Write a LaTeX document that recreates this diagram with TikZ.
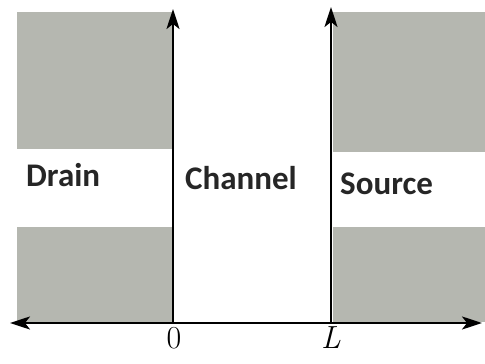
\documentclass[tikz,border=0pt]{standalone}
\usepackage{fontspec}
\setsansfont{Carlito}
\usetikzlibrary{arrows.meta}
\definecolor{regiongray}{RGB}{181,183,176}
\tikzset{
  region/.style={fill=regiongray, draw=none},
  band/.style={fill=white, draw=none},
  axis/.style={line width=2.2pt, -{Stealth[length=20pt,width=13pt,inset=5pt]}},
  lbl/.style={inner sep=0pt, anchor=base west, font=\sffamily\bfseries\fontsize{33}{38}\selectfont, text=black!85},
  tick/.style={inner sep=0pt, font=\fontsize{32}{36}\selectfont}
}
\begin{document}
\begin{tikzpicture}[x=1pt,y=1pt]
\useasboundingbox (0,0) rectangle (485,364);
% regions
\fill[region] (17,42) rectangle (172,352);
\fill[band] (17,137) rectangle (172,215);
\fill[region] (333,42) rectangle (485,352);
\fill[band] (333,137) rectangle (485,212);
% coordinates
\coordinate (O) at (173,41);
\coordinate (Lp) at (331,41);
\coordinate (Otop) at (173,355);
\coordinate (Ltop) at (331,357);
\coordinate (Xleft) at (10,41);
\coordinate (Xright) at (482,41);
% axes
\draw[axis] (O) -- (Xleft);
\draw[axis] (O) -- (Xright);
\draw[axis] (O) -- (Otop);
\draw[axis] (Lp) -- (Ltop);
% labels
\node[lbl] (drain) at (26,177) {Drain};
\node[lbl] (channel) at (185,174) {Channel};
\node[lbl] (source) at (340,169) {Source};
\node[tick, anchor=base] (zero) at (174,15) {0};
\node[tick, anchor=base] (ell) at (331,15) {\itshape L};
\end{tikzpicture}
\end{document}
